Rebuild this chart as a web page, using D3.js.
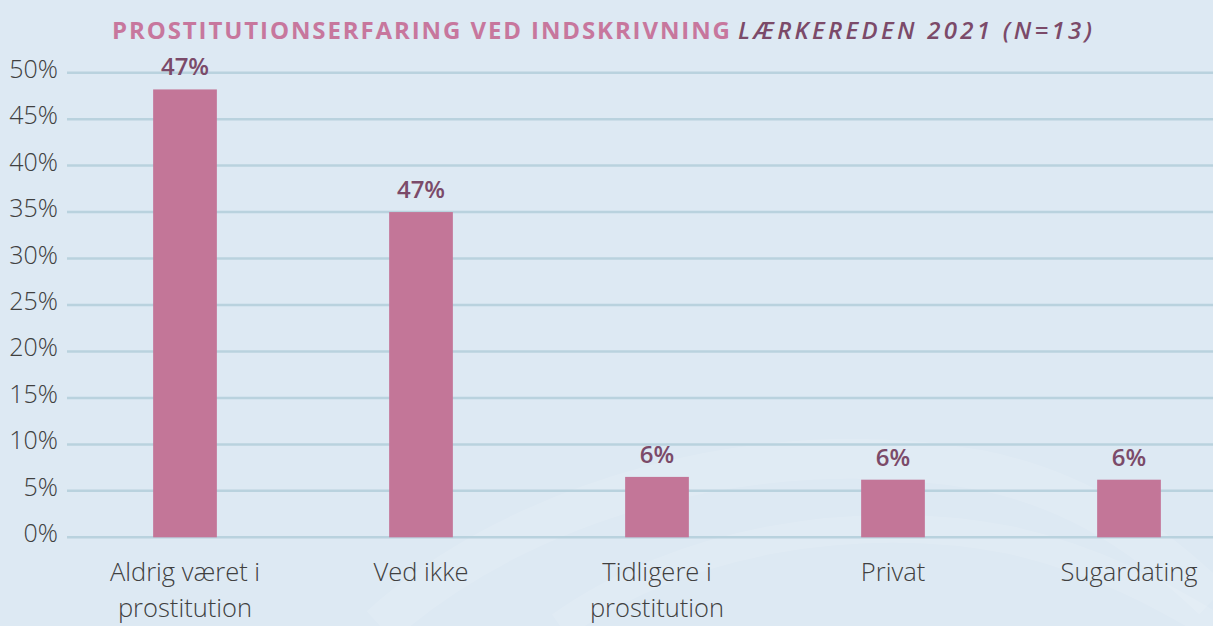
<!DOCTYPE html>
<html>
<head>
<meta charset="utf-8">
<script src="https://cdn.jsdelivr.net/npm/d3@7"></script>
<style>
  body { margin:0; background:#dde9f3; }
  svg { display:block; }
</style>
</head>
<body>
<div id="chart"></div>
<script>
const categories = [["Aldrig været i", "prostitution"], ["Ved ikke"], ["Tidligere i", "prostitution"], ["Privat"], ["Sugardating"]]
const barValues = [48.2, 35.0, 6.5, 6.2, 6.2]
const barLabels = ["47%", "47%", "6%", "6%", "6%"]
const yTicks = [0, 5, 10, 15, 20, 25, 30, 35, 40, 45, 50]

const width = 1213
const height = 626
const margin = {top: 72.7, right: -34, bottom: 88.7, left: 67}

const svg = d3.select("#chart").append("svg")
    .attr("width", width)
    .attr("height", height)

svg.append("rect").attr("width", width).attr("height", height).attr("fill", "#dde9f3")

// faint swirl in the background
const swirl = svg.append("g").attr("fill", "none").attr("stroke", "#ffffff").attr("stroke-opacity", 0.1)
swirl.append("path").attr("d", "M380,626 C520,500 760,430 980,470 C1080,490 1150,540 1213,600").attr("stroke-width", 40)
swirl.append("path").attr("d", "M560,626 C680,540 860,510 1010,540 C1100,560 1170,600 1213,626").attr("stroke-width", 28)

let x = d3.scaleBand()
    .domain(d3.range(categories.length))
    .range([margin.left, width - margin.right])
    .paddingInner(0.73)
    .paddingOuter(0.365)

let y = d3.scaleLinear()
    .domain([0, 50])
    .range([height - margin.bottom, margin.top])

// gridlines
svg.append("g").selectAll("line")
    .data(yTicks)
    .join("line")
    .attr("x1", margin.left)
    .attr("x2", width)
    .attr("y1", d => y(d))
    .attr("y2", d => y(d))
    .attr("stroke", "#b9d2de")
    .attr("stroke-width", 2.5)

// y tick labels
svg.append("g").selectAll("text")
    .data(yTicks)
    .join("text")
    .attr("x", 58)
    .attr("y", d => y(d) + 5)
    .attr("text-anchor", "end")
    .attr("font-family", "'Open Sans', sans-serif")
    .attr("font-weight", 300)
    .attr("font-size", 25)
    .attr("fill", "#404040")
    .text(d => d + "%")

// bars
svg.append("g").selectAll("rect")
    .data(barValues)
    .join("rect")
    .attr("x", (d, i) => x(i))
    .attr("width", x.bandwidth())
    .attr("y", d => y(d))
    .attr("height", d => y(0) - y(d))
    .attr("fill", "#c37698")

// value labels
svg.append("g").selectAll("text")
    .data(barValues)
    .join("text")
    .attr("x", (d, i) => x(i) + x.bandwidth() / 2)
    .attr("y", d => y(d) - 14)
    .attr("text-anchor", "middle")
    .attr("font-family", "'Open Sans', sans-serif")
    .attr("font-weight", 600)
    .attr("font-size", 24)
    .attr("fill", "#7b4a69")
    .text((d, i) => barLabels[i])

// category labels
let cat = svg.append("g").selectAll("text")
    .data(categories)
    .join("text")
    .attr("x", (d, i) => x(i) + x.bandwidth() / 2)
    .attr("y", 581)
    .attr("text-anchor", "middle")
    .attr("font-family", "'Open Sans', sans-serif")
    .attr("font-weight", 300)
    .attr("font-size", 25.5)
    .attr("fill", "#404040")
cat.selectAll("tspan")
    .data(d => d)
    .join("tspan")
    .attr("x", function() { return this.parentNode.getAttribute("x") })
    .attr("dy", (d, i) => i ? 36 : 0)
    .text(d => d)

// title
let title = svg.append("text")
    .attr("x", 112)
    .attr("y", 39)
    .attr("font-family", "'Open Sans', sans-serif")
    .attr("font-size", 24)
title.append("tspan")
    .attr("font-weight", 700)
    .attr("fill", "#c7779d")
    .attr("textLength", 618)
    .attr("lengthAdjust", "spacing")
    .text("PROSTITUTIONSERFARING VED INDSKRIVNING")
title.append("tspan")
    .attr("x", 738)
    .attr("font-weight", 600)
    .attr("font-style", "italic")
    .attr("fill", "#7b4a69")
    .attr("textLength", 354)
    .attr("lengthAdjust", "spacing")
    .text("LÆRKEREDEN 2021 (N=13)")
</script>
</body>
</html>
